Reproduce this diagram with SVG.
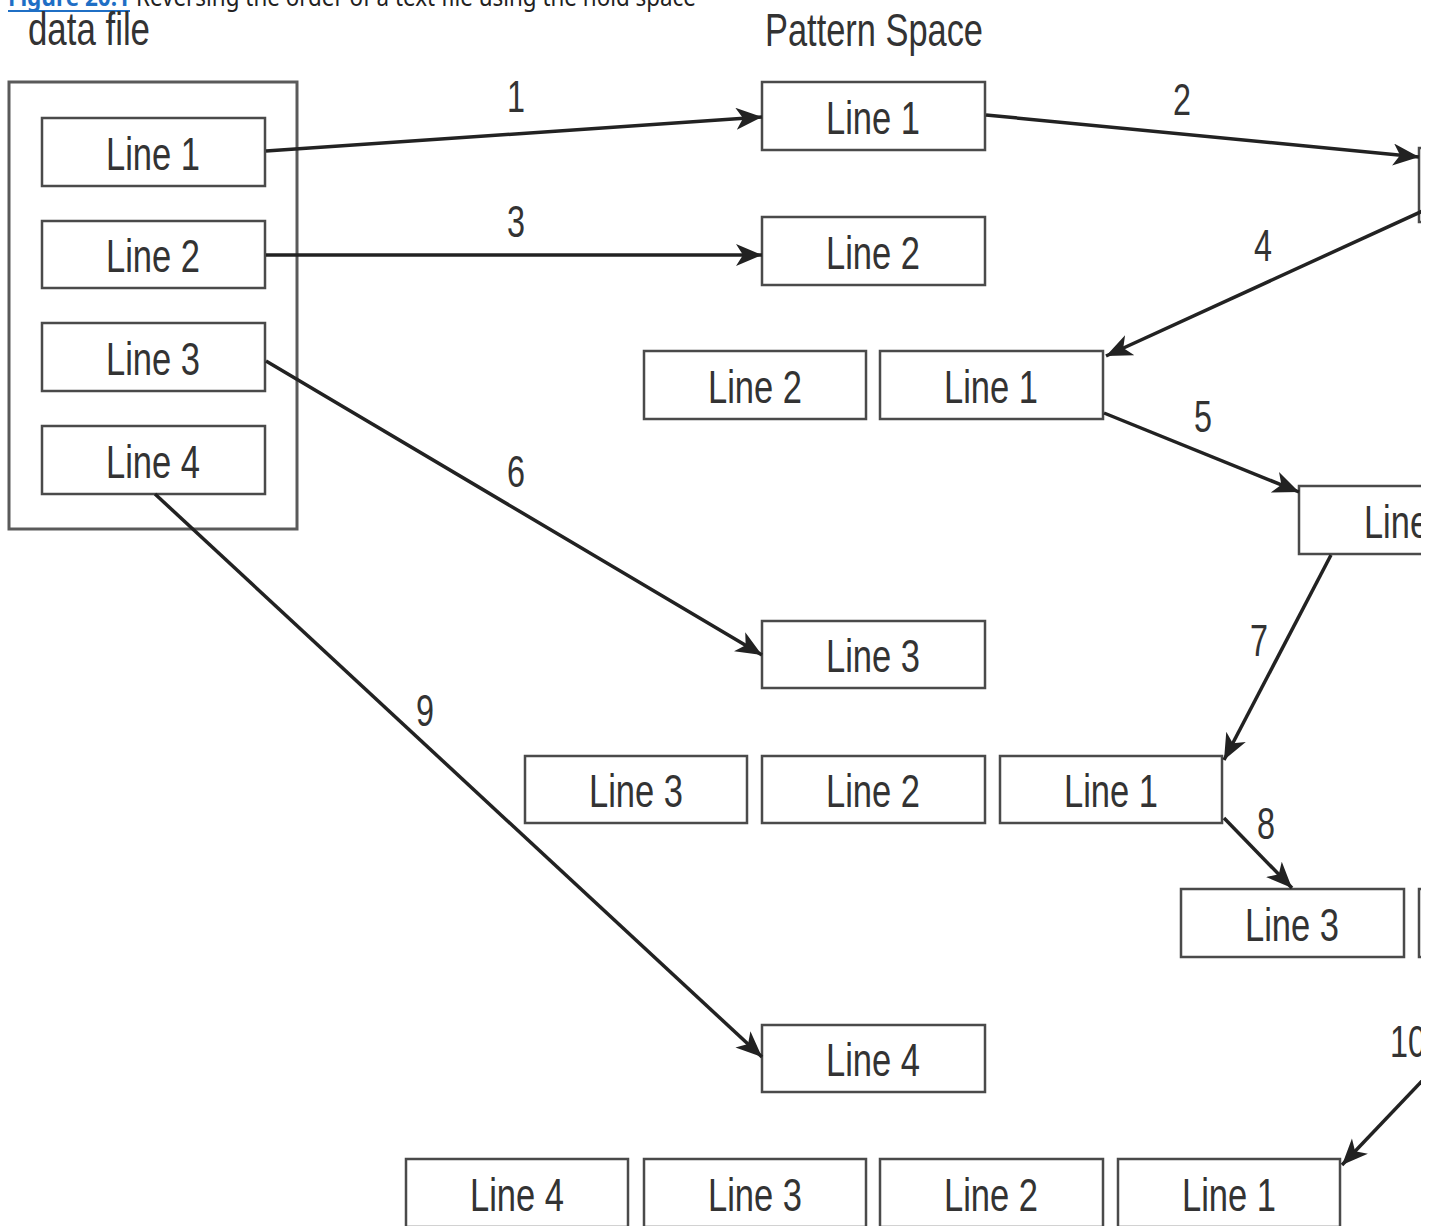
<svg xmlns="http://www.w3.org/2000/svg" width="1434" height="1226" viewBox="0 0 1434 1226">
<style>
.box{fill:#fff;stroke:#4a4a4a;stroke-width:2.5}
.outer{fill:#fff;stroke:#5a5a5a;stroke-width:3}
.t{font-family:"Liberation Sans",Arial,sans-serif;font-size:47px;fill:#333;text-anchor:middle}
.h{font-family:"Liberation Sans",Arial,sans-serif;font-size:46px;fill:#333}
.n{font-family:"Liberation Sans",Arial,sans-serif;font-size:45px;fill:#333;text-anchor:middle}
.cap{font-family:"Noto Sans","Open Sans",sans-serif;font-size:25px;fill:#222}
.conn line{stroke:#222;stroke-width:3.5;marker-end:url(#ah)}
</style>
<defs>
<marker id="ah" markerUnits="userSpaceOnUse" markerWidth="30" markerHeight="24" refX="26" refY="11" orient="auto">
<path d="M0,0 L26,11 L0,22 L7,11 z" fill="#222"/>
</marker>
<clipPath id="clip"><rect x="0" y="0" width="1421" height="1226"/></clipPath>
</defs>
<rect width="1434" height="1226" fill="#fff"/>
<g id="caption">
<text class="cap" x="8" y="6" textLength="122" lengthAdjust="spacingAndGlyphs" style="fill:#1f6fc5;font-weight:bold">Figure 20.1</text>
<line x1="8" y1="11" x2="130" y2="11" stroke="#1f6fc5" stroke-width="2"/>
<text class="cap" x="136" y="6" textLength="560" lengthAdjust="spacingAndGlyphs">Reversing the order of a text file using the hold space</text>
</g>
<g clip-path="url(#clip)">
<g id="labels">
<text class="h" x="28" y="45" textLength="122" lengthAdjust="spacingAndGlyphs">data file</text>
<text class="h" x="765" y="46" textLength="218" lengthAdjust="spacingAndGlyphs">Pattern Space</text>
</g>
<g id="datafile">
<rect class="outer" x="9" y="82" width="288" height="447"/>
<g id="df1"><rect class="box" x="42" y="118" width="223" height="68"/><text class="t" x="153" y="170" textLength="94" lengthAdjust="spacingAndGlyphs">Line 1</text></g>
<g id="df2"><rect class="box" x="42" y="221" width="223" height="67"/><text class="t" x="153" y="272" textLength="94" lengthAdjust="spacingAndGlyphs">Line 2</text></g>
<g id="df3"><rect class="box" x="42" y="323" width="223" height="68"/><text class="t" x="153" y="375" textLength="94" lengthAdjust="spacingAndGlyphs">Line 3</text></g>
<g id="df4"><rect class="box" x="42" y="426" width="223" height="68"/><text class="t" x="153" y="478" textLength="94" lengthAdjust="spacingAndGlyphs">Line 4</text></g>
</g>
<g id="p1"><rect class="box" x="762" y="82" width="223" height="68"/><text class="t" x="873" y="134" textLength="94" lengthAdjust="spacingAndGlyphs">Line 1</text></g>
<g id="h1"><rect class="box" x="1419" y="148" width="223" height="74"/></g>
<g id="p2"><rect class="box" x="762" y="217" width="223" height="68"/><text class="t" x="873" y="269" textLength="94" lengthAdjust="spacingAndGlyphs">Line 2</text></g>
<g id="p3a"><rect class="box" x="644" y="351" width="222" height="68"/><text class="t" x="755" y="403" textLength="94" lengthAdjust="spacingAndGlyphs">Line 2</text></g>
<g id="p3b"><rect class="box" x="880" y="351" width="223" height="68"/><text class="t" x="991" y="403" textLength="94" lengthAdjust="spacingAndGlyphs">Line 1</text></g>
<g id="h2"><rect class="box" x="1299" y="486" width="223" height="68"/><text class="h" x="1364" y="538" textLength="65" lengthAdjust="spacingAndGlyphs" style="font-size:47px">Line</text></g>
<g id="p4"><rect class="box" x="762" y="621" width="223" height="67"/><text class="t" x="873" y="672" textLength="94" lengthAdjust="spacingAndGlyphs">Line 3</text></g>
<g id="p5a"><rect class="box" x="525" y="756" width="222" height="67"/><text class="t" x="636" y="807" textLength="94" lengthAdjust="spacingAndGlyphs">Line 3</text></g>
<g id="p5b"><rect class="box" x="762" y="756" width="223" height="67"/><text class="t" x="873" y="807" textLength="94" lengthAdjust="spacingAndGlyphs">Line 2</text></g>
<g id="p5c"><rect class="box" x="1000" y="756" width="222" height="67"/><text class="t" x="1111" y="807" textLength="94" lengthAdjust="spacingAndGlyphs">Line 1</text></g>
<g id="h3a"><rect class="box" x="1181" y="889" width="223" height="68"/><text class="t" x="1292" y="941" textLength="94" lengthAdjust="spacingAndGlyphs">Line 3</text></g>
<g id="h3b"><rect class="box" x="1419" y="889" width="223" height="68"/></g>
<g id="p6"><rect class="box" x="762" y="1025" width="223" height="67"/><text class="t" x="873" y="1076" textLength="94" lengthAdjust="spacingAndGlyphs">Line 4</text></g>
<g id="p7a"><rect class="box" x="406" y="1159" width="222" height="68"/><text class="t" x="517" y="1211" textLength="94" lengthAdjust="spacingAndGlyphs">Line 4</text></g>
<g id="p7b"><rect class="box" x="644" y="1159" width="222" height="68"/><text class="t" x="755" y="1211" textLength="94" lengthAdjust="spacingAndGlyphs">Line 3</text></g>
<g id="p7c"><rect class="box" x="880" y="1159" width="223" height="68"/><text class="t" x="991" y="1211" textLength="94" lengthAdjust="spacingAndGlyphs">Line 2</text></g>
<g id="p7d"><rect class="box" x="1118" y="1159" width="222" height="68"/><text class="t" x="1229" y="1211" textLength="94" lengthAdjust="spacingAndGlyphs">Line 1</text></g>
<g id="connectors" class="conn">
<line x1="266" y1="151" x2="762" y2="117"/>
<line x1="986" y1="115" x2="1419" y2="157"/>
<line x1="266" y1="255" x2="762" y2="255"/>
<line x1="1440" y1="203" x2="1106" y2="356"/>
<line x1="1104" y1="413" x2="1299" y2="492"/>
<line x1="266" y1="361" x2="762" y2="655"/>
<line x1="1331" y1="555" x2="1224" y2="760"/>
<line x1="1224" y1="818" x2="1292" y2="888"/>
<line x1="155" y1="494" x2="762" y2="1057"/>
<line x1="1440" y1="1062" x2="1342" y2="1165"/>
</g>
<g id="steps">
<text class="n" x="516" y="112" textLength="18" lengthAdjust="spacingAndGlyphs">1</text>
<text class="n" x="1182" y="115" textLength="18" lengthAdjust="spacingAndGlyphs">2</text>
<text class="n" x="516" y="237" textLength="18" lengthAdjust="spacingAndGlyphs">3</text>
<text class="n" x="1263" y="261" textLength="18" lengthAdjust="spacingAndGlyphs">4</text>
<text class="n" x="1203" y="432" textLength="18" lengthAdjust="spacingAndGlyphs">5</text>
<text class="n" x="516" y="487" textLength="18" lengthAdjust="spacingAndGlyphs">6</text>
<text class="n" x="1259" y="656" textLength="18" lengthAdjust="spacingAndGlyphs">7</text>
<text class="n" x="1266" y="839" textLength="18" lengthAdjust="spacingAndGlyphs">8</text>
<text class="n" x="425" y="726" textLength="18" lengthAdjust="spacingAndGlyphs">9</text>
<text class="n" x="1390" y="1057" textLength="36" lengthAdjust="spacingAndGlyphs" style="text-anchor:start">10</text>
</g>
</g>
</svg>
